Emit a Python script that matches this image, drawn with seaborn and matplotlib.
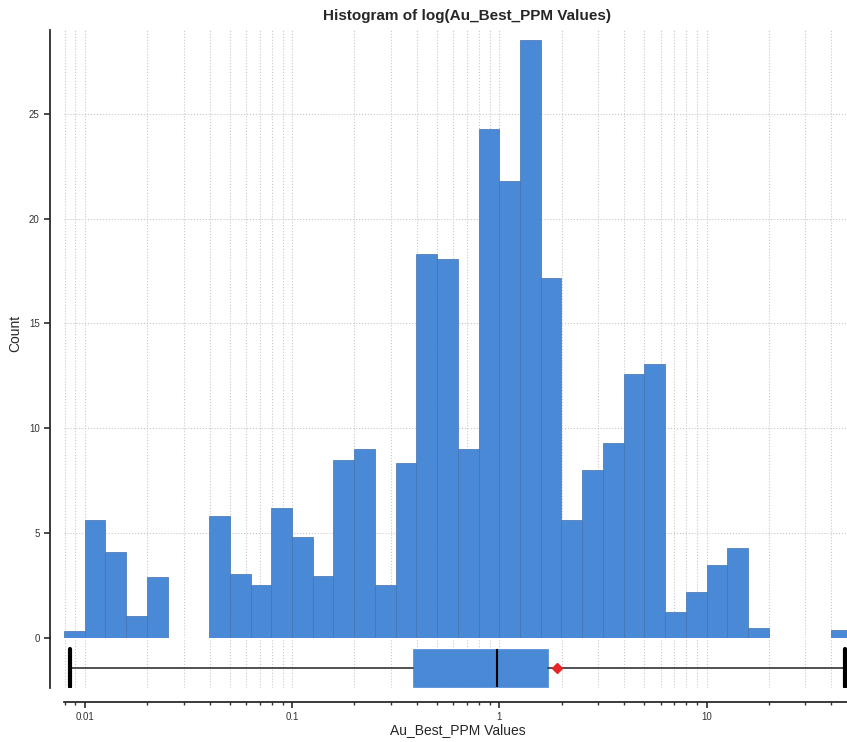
import numpy as np
import matplotlib
matplotlib.use('Agg')
import matplotlib.pyplot as plt
import matplotlib.ticker as mticker
import seaborn as sns

# histogram bins: equal width in log10 units, 10^-2.1 .. 10^1.7
log_lo, log_hi = -2.1, 1.7
counts = [0.33, 5.62, 4.09, 1.04, 2.91, 0, 0, 5.83, 3.04, 2.53,
          6.19, 4.81, 2.96, 8.48, 9.01, 2.52, 8.34, 18.32, 18.07, 9.01,
          24.26, 21.78, 28.53, 17.16, 5.62, 8.0, 9.28, 12.59, 13.07, 1.23,
          2.17, 3.46, 4.30, 0.48, 0, 0, 0, 0.38]

# box summary of the Au_Best_PPM values
au_min = 0.0085
au_q1 = 0.382
au_median = 0.972
au_q3 = 1.71
au_max = 46.3
au_mean = 1.89

title = 'Histogram of log(Au_Best_PPM Values)'
bar_color = '#4a89d6'
grid_kw = dict(ls=':', color='#c8c8c8', lw=0.8)

sns.set_theme(style='ticks')
plt.rcParams['font.family'] = ['Liberation Sans', 'DejaVu Sans']

fig = plt.figure(figsize=(8.47, 7.42), dpi=100)
ax = fig.add_axes([0.0756, 0.1406, 0.9299, 0.8190])
axb = fig.add_axes([0.0756, 0.0728, 0.9299, 0.0678], sharex=ax)

n_bins = len(counts)
centers = 10 ** np.linspace(log_lo + 0.05, log_hi - 0.05, n_bins)
sns.histplot(x=centers, weights=counts, bins=n_bins, binrange=(log_lo, log_hi),
             log_scale=True, color=bar_color, alpha=1, edgecolor='#4272b0',
             linewidth=0.5, ax=ax)
for p in ax.patches:
    if p.get_height() == 0:
        p.set_visible(False)

stats = [dict(med=au_median, q1=au_q1, q3=au_q3, whislo=au_min, whishi=au_max,
              mean=au_mean, fliers=[])]
axb.bxp(stats, positions=[0], widths=1.0, capwidths=1.0, orientation='horizontal',
        patch_artist=True, showmeans=True, showfliers=False,
        boxprops=dict(facecolor=bar_color, edgecolor=bar_color, lw=0.5),
        medianprops=dict(color='black', lw=1.5),
        whiskerprops=dict(color='#333333', lw=1.2),
        capprops=dict(color='black', lw=3),
        meanprops=dict(marker='D', markerfacecolor='#e8262a',
                       markeredgecolor='#e8262a', markersize=5))

ax.set_xlim(10 ** log_lo, 10 ** log_hi)
ax.set_ylim(0, 29.0)
axb.set_ylim(-0.53, 0.8)

for a in (ax, axb):
    a.set_axisbelow(True)
    a.grid(True, which='both', axis='x', **grid_kw)
    a.spines['top'].set_visible(False)
    a.spines['right'].set_visible(False)
    a.spines['left'].set_position(('outward', 10))
    a.spines['left'].set_color('#222222')
ax.grid(True, which='major', axis='y', **grid_kw)
axb.grid(False, axis='y')
ax.spines['bottom'].set_visible(False)
axb.spines['bottom'].set_position(('outward', 10))
axb.spines['bottom'].set_color('#222222')

ax.tick_params(axis='x', which='both', bottom=False, labelbottom=False)
ax.tick_params(axis='y', labelsize=7, colors='#333333', length=4)
axb.tick_params(axis='y', left=False, labelleft=False)
axb.tick_params(axis='x', which='major', labelsize=7, colors='#333333', length=4, pad=3)
axb.tick_params(axis='x', which='minor', colors='#333333', length=2)
axb.xaxis.set_major_formatter(mticker.FuncFormatter(lambda v, p: f'{v:g}'))
axb.xaxis.set_minor_formatter(mticker.NullFormatter())

ax.set_xlabel('')
ax.set_ylabel('Count', fontsize=10, labelpad=5)
axb.set_xlabel('Au_Best_PPM Values', fontsize=10, labelpad=1)
fig.text(467 / 847, 1 - 16 / 742, title, ha='center', va='center',
         fontsize=11, fontweight='bold')

fig.savefig('out.png', dpi=100)
